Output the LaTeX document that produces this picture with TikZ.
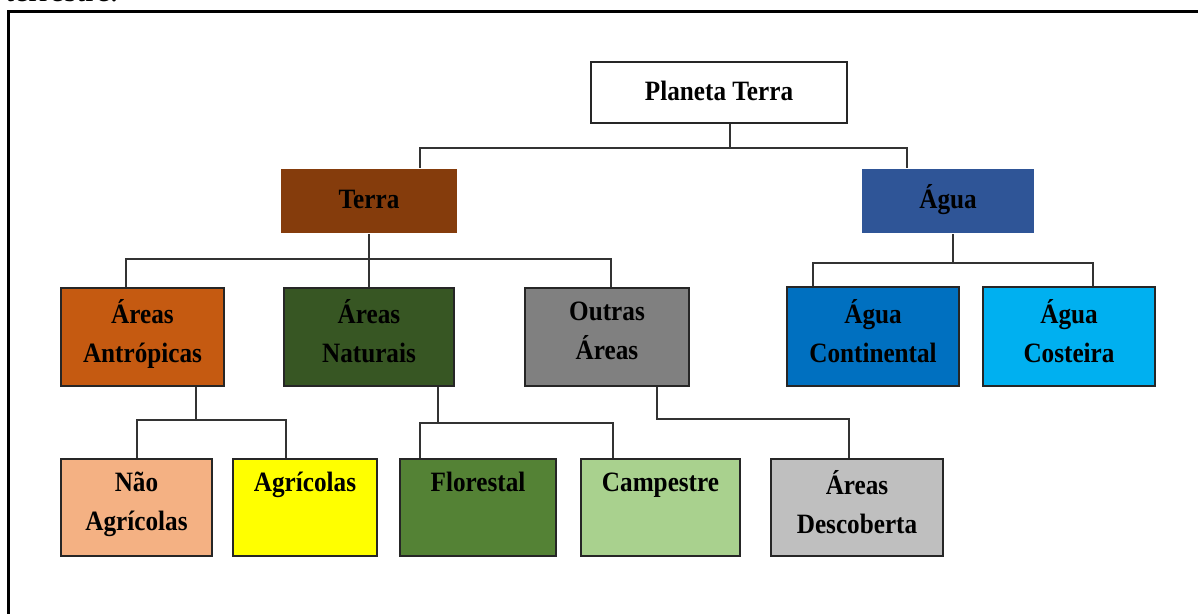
\documentclass[tikz,border=0pt]{standalone}
\usepackage{fontspec}
\setmainfont{Liberation Serif}[FakeStretch=0.9]
\newfontfamily\textofont{Liberation Serif}
\definecolor{corTerra}{RGB}{133,60,12}
\definecolor{corAgua}{RGB}{47,85,151}
\definecolor{corAntr}{RGB}{197,90,17}
\definecolor{corNatu}{RGB}{55,86,35}
\definecolor{corOutr}{RGB}{128,128,128}
\definecolor{corCont}{RGB}{0,112,192}
\definecolor{corCost}{RGB}{0,176,240}
\definecolor{corNaoAgr}{RGB}{244,177,131}
\definecolor{corAgr}{RGB}{255,255,0}
\definecolor{corFlor}{RGB}{84,130,53}
\definecolor{corCamp}{RGB}{169,209,142}
\definecolor{corDesc}{RGB}{191,191,191}
\tikzset{
  caixa/.style={draw=black!85, line width=1pt, align=center, inner sep=0pt,
    font=\bfseries\fontsize{14}{19.5}\selectfont,
    execute at begin node=\strut, execute at end node=\strut},
  liga/.style={draw=black!80, line width=1pt}
}
\begin{document}
\begin{tikzpicture}
      [x=0.5pt,y=-0.5pt]
      \useasboundingbox (0,0) rectangle (1198,614);
      \clip (0,0) rectangle (1198,614);
      \node[anchor=base west, inner sep=0pt, font=\textofont\fontsize{16}{19}\selectfont] (legenda) at (5,1.5) {terrestre.};
      \draw[line width=1.5pt] (8,640) |- (1240,12);

      \node[caixa, fill=white, minimum width=128pt, minimum height=30.5pt] (planeta) at (719,92.5) {Planeta Terra};
      \node[caixa, draw=none, fill=corTerra, minimum width=88pt, minimum height=32pt] (terra) at (369,201) {Terra};
      \node[caixa, draw=none, fill=corAgua, minimum width=86pt, minimum height=32pt] (agua) at (948,201) {Água};

      \node[caixa, fill=corAntr, minimum width=81.5pt, minimum height=49pt] (antr) at (142.5,337) {Áreas\\Antrópicas};
      \node[caixa, fill=corNatu, minimum width=85pt, minimum height=49pt] (natu) at (369,337) {Áreas\\Naturais};
      \node[caixa, fill=corOutr, minimum width=82pt, minimum height=49pt] (outr) at (607,337) {Outras\\Áreas};
      \node[caixa, fill=corCont, minimum width=86pt, minimum height=49.5pt] (cont) at (873,336.5) {Água\\Continental};
      \node[caixa, fill=corCost, minimum width=86pt, minimum height=49.5pt] (cost) at (1069,336.5) {Água\\Costeira};

      \node[caixa, fill=corNaoAgr, minimum width=75.5pt, minimum height=48.5pt] (naoagr) at (136.5,507.5) {Não\\Agrícolas};
      \node[caixa, fill=corAgr, minimum width=72pt, minimum height=48.5pt] (agr) at (305,507.5) {Agrícolas\\~};
      \node[caixa, fill=corFlor, minimum width=78pt, minimum height=48.5pt] (flor) at (478,507.5) {Florestal\\~};
      \node[caixa, fill=corCamp, minimum width=79.5pt, minimum height=48.5pt] (camp) at (660.5,507.5) {Campestre\\~};
      \node[caixa, fill=corDesc, minimum width=86pt, minimum height=48.5pt] (desc) at (857,507.5) {Áreas\\Descoberta};

      \draw[liga] ([xshift=5.5pt]planeta.south) -- ++(0,24) coordinate (jp);
      \draw[liga] ([xshift=25.5pt]terra.north) |- (jp) -| ([xshift=-20.5pt]agua.north);

      \draw[liga] (terra.south) -- ++(0,25) coordinate (jt);
      \draw[liga] ([xshift=-8.25pt]antr.north) |- (jt) -| ([xshift=2pt]outr.north);
      \draw[liga] (jt) -- (natu.north);

      \draw[liga] ([xshift=2.5pt]agua.south) -- ++(0,29) coordinate (ja);
      \draw[liga] ([xshift=-30pt]cont.north) |- (ja) -| ([xshift=12pt]cost.north);

      \draw[liga] ([xshift=26.75pt]antr.south) -- ++(0,33) coordinate (jn);
      \draw[liga] (naoagr.north) |- (jn) -| ([xshift=-9.5pt]agr.north);

      \draw[liga] ([xshift=34.5pt]natu.south) -- ++(0,36) coordinate (jf);
      \draw[liga] ([xshift=-29pt]flor.north) |- (jf) -| ([xshift=-23.75pt]camp.north);

      \draw[liga] ([xshift=25pt]outr.south) -- ++(0,32) -| ([xshift=-4pt]desc.north);
    \end{tikzpicture}
\end{document}
